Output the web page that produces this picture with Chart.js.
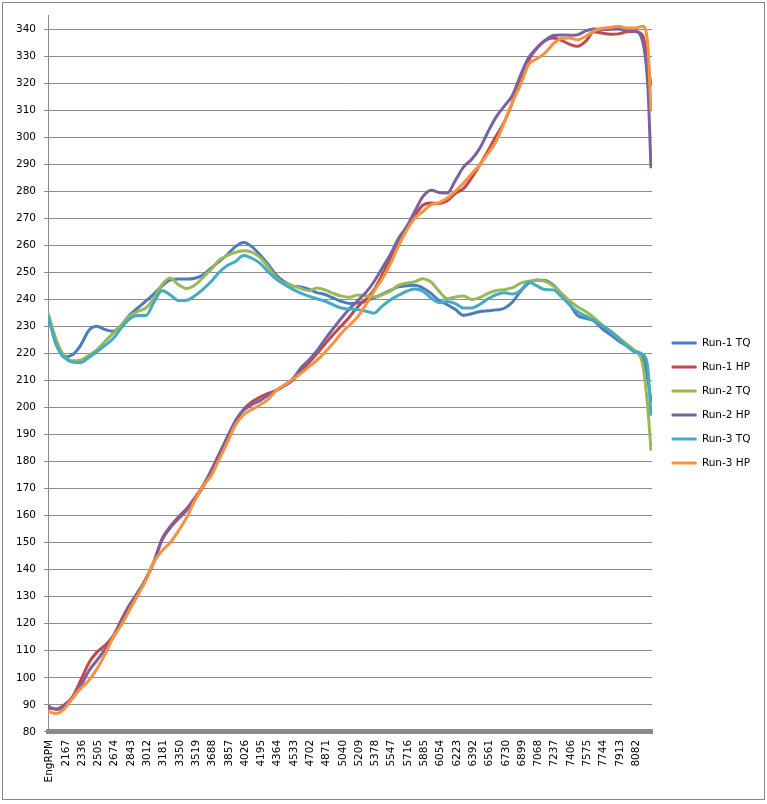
<!DOCTYPE html>
<html>
<head>
<meta charset="utf-8">
<script src="https://cdn.jsdelivr.net/npm/chart.js@4.4.1/dist/chart.umd.min.js"></script>
<style>
  html, body { margin: 0; padding: 0; background: #fff; }
  #wrap { width: 767px; height: 804px; position: relative; }
</style>
</head>
<body>
<div id="wrap"><canvas id="dyno" width="767" height="804"></canvas></div>
<script>
// x tick labels (Excel showed every other row of the sheet)
const xTickLabels = ['EngRPM', '2167', '2336', '2505', '2674', '2843', '3012', '3181', '3350', '3519',
    '3688', '3857', '4026', '4195', '4364', '4533', '4702', '4871', '5040', '5209', '5378', '5547',
    '5716', '5885', '6054', '6223', '6392', '6561', '6730', '6899', '7068', '7237', '7406', '7575',
    '7744', '7913', '8082'];
const xTickValues = [1998, 2167, 2336, 2505, 2674, 2843, 3012, 3181, 3350, 3519, 3688, 3857, 4026,
    4195, 4364, 4533, 4702, 4871, 5040, 5209, 5378, 5547, 5716, 5885, 6054, 6223, 6392, 6561, 6730,
    6899, 7068, 7237, 7406, 7575, 7744, 7913, 8082];

// sample rpm for every series
const rpm = [1998, 2083, 2167, 2252, 2336, 2421, 2505, 2590, 2674, 2759, 2843, 2928, 3012, 3097,
    3181, 3266, 3350, 3435, 3519, 3604, 3688, 3773, 3857, 3942, 4026, 4111, 4195, 4280, 4364, 4449,
    4533, 4618, 4702, 4787, 4871, 4956, 5040, 5125, 5209, 5294, 5378, 5463, 5547, 5632, 5716, 5801,
    5885, 5970, 6054, 6139, 6223, 6308, 6392, 6477, 6561, 6646, 6730, 6815, 6899, 6984, 7068, 7153,
    7237, 7322, 7406, 7491, 7575, 7660, 7744, 7829, 7913, 7998, 8082, 8167, 8220, 8251];

const run1TQ = [234, 224, 218.7, 219.5, 223, 228.5, 230, 228.8, 228.2, 230.5,
    234.2, 236.8, 239.3, 242, 245, 247.2, 247.5, 247.5, 247.8, 249,
    251.5, 254, 256.5, 259.5, 261, 259.5, 256.5, 253, 249, 246.5,
    245, 244.6, 243.8, 242.5, 241.8, 240.5, 239.2, 238.5, 238.6, 239.4,
    240.5, 241.9, 243.3, 244.6, 245, 245.2, 244.2, 242.2, 239.5, 238,
    236.2, 234.1, 234.7, 235.5, 235.8, 236.1, 236.7, 239, 243, 246,
    247.2, 247, 245.3, 242, 238.2, 234, 233, 232, 229.2, 227,
    224.7, 222.8, 221, 218.5, 210, 202];
const run1HP = [88.8, 88.5, 90, 93, 99, 105.5, 109.5, 112, 115.5, 121.5,
    127, 131.5, 136.5, 143, 151.5, 156, 159.5, 162.5, 166.5, 171,
    176.6, 182.8, 189, 195, 199.3, 202, 203.8, 205.2, 206.3, 208,
    210, 213.5, 216.5, 220, 223.5, 227, 230.2, 233.5, 237.2, 240,
    243.5, 249, 255, 261.2, 266.5, 271, 274.8, 275.6, 275.5, 276.5,
    279.2, 281, 285, 289.8, 295, 300.5, 305.6, 313, 321.7, 328.5,
    333, 335.8, 336.7, 335.8, 334.4, 333.6, 335.5, 339, 338.5, 338.1,
    338.2, 339, 339.1, 337.5, 327, 319];
const run2TQ = [235, 225, 219, 217.3, 217.5, 219.3, 221.3, 224.5, 227.5, 230.5,
    233.8, 235.5, 236.8, 240.5, 245.5, 247.9, 245.4, 244, 245.2, 248,
    251, 254.5, 256.2, 257.4, 258, 257.5, 255.5, 252, 248, 246,
    245, 244, 243.2, 244.2, 243.5, 242.2, 241.2, 240.8, 241.6, 241.3,
    240.9, 241.7, 243, 245.2, 246, 246.5, 247.6, 246.4, 243, 240.2,
    240.9, 241.2, 239.9, 240.7, 242.2, 243.3, 243.6, 244.3, 246, 246.7,
    247.1, 246.7, 245, 242.2, 239.5, 237.2, 235.5, 233.2, 230.5, 228.4,
    226, 223.5, 221, 215.5, 199, 184];
const run2HP = [89.5, 88.3, 89.5, 92.5, 97, 102.5, 106.5, 110.5, 115, 121,
    126.5, 131.5, 136.5, 143, 151, 155.5, 158.8, 162, 166, 170.5,
    176.2, 182.5, 188.8, 195, 199, 201, 202.5, 204.5, 206.3, 208.2,
    210.5, 214.5, 217.5, 221, 225.2, 229.2, 233, 236.5, 239.5, 242.5,
    246.5, 251.5, 256.5, 262.5, 266.8, 272.5, 278, 280.4, 279.5, 279.3,
    284, 289, 291.8, 296, 302, 307.5, 311.5, 315.5, 323, 329.5,
    333, 335.7, 337.6, 337.8, 337.7, 337.9, 339.3, 340, 339.8, 339.9,
    340, 339.4, 339.2, 335, 318, 288.5];
const run3TQ = [234, 223, 218.5, 216.8, 216.6, 218.5, 220.7, 223, 225.5, 229.5,
    232.7, 234, 234, 239, 243.3, 241.6, 239.6, 239.7, 241.3, 243.7,
    246.5, 250, 252.5, 254, 256.2, 255.2, 253.4, 250.2, 247.5, 245.5,
    243.8, 242.3, 241.2, 240.2, 239.3, 238, 236.8, 236.4, 236.2, 235.6,
    234.9, 237.5, 239.8, 241.5, 243, 243.8, 243, 240.5, 238.8, 239.2,
    238.4, 236.8, 236.8, 238.2, 240.2, 241.7, 242.4, 242, 243.3, 246.3,
    245, 243.6, 243.5, 241, 238, 235.4, 233.8, 232.2, 230.3, 228.2,
    225.5, 222.8, 220.6, 219.6, 214, 197];
const run3HP = [87.5, 86.8, 88.5, 92.5, 96, 99, 103.3, 108.8, 115, 119.5,
    125, 130.5, 136, 143, 147, 150, 154.3, 159.3, 165.5, 170.8,
    174.7, 180.8, 187, 193.5, 197.3, 199.3, 200.9, 203, 206.2, 208.3,
    210.4, 212.5, 215, 217.5, 220.5, 223.8, 227.5, 230.5, 233.5, 238,
    243, 247.5, 253, 259.8, 265.5, 270, 272.5, 275, 275.8, 277.5,
    280, 283, 286.5, 289.8, 294, 298.5, 305.5, 313, 319.5, 327,
    329, 331.2, 334.5, 336.5, 336.7, 336, 337.3, 339.3, 340.3, 340.6,
    341, 340.4, 340.4, 341, 333, 310];

const seriesNames = ['Run-1 TQ', 'Run-1 HP', 'Run-2 TQ', 'Run-2 HP', 'Run-3 TQ', 'Run-3 HP'];
const seriesValues = [run1TQ, run1HP, run2TQ, run2HP, run3TQ, run3HP];
const seriesColors = ['#4a7ebb', '#be4b48', '#98b954', '#7d60a0', '#46aac5', '#f69240'];

const FONT = 'DejaVu Sans';

const borderPlugin = {
    id: 'outerBorder',
    beforeDraw(chart) {
        const ctx = chart.ctx;
        ctx.save();
        ctx.fillStyle = '#fff';
        ctx.fillRect(0, 0, chart.width, chart.height);
        ctx.strokeStyle = '#868686';
        ctx.lineWidth = 1;
        ctx.strokeRect(2.5, 2.5, 762, 797);
        ctx.restore();
    },
    afterLayout(chart) {
        // nudge the legend a bit away from the plot, like Excel does
        const lg = chart.legend;
        if (lg) {
            lg.left += 6;
            lg.right += 6;
        }
    }
};

const datasets = seriesNames.map((name, i) => ({
    label: name,
    data: rpm.map((r, j) => ({ x: r, y: seriesValues[i][j] })),
    borderColor: seriesColors[i],
    backgroundColor: seriesColors[i],
    borderWidth: 3,
    pointRadius: 0,
    fill: false,
    cubicInterpolationMode: 'monotone',
    order: seriesNames.length - i
}));

new Chart(document.getElementById('dyno'), {
    type: 'line',
    data: { datasets },
    plugins: [borderPlugin],
    options: {
        responsive: false,
        animation: false,
        layout: { padding: { left: 8, right: 12.5, top: 15.5, bottom: 13.5 } },
        scales: {
            x: {
                type: 'linear',
                min: 1998,
                max: 8263,
                afterBuildTicks: scale => {
                    scale.ticks = xTickValues.map(v => ({ value: v }));
                },
                ticks: {
                    autoSkip: false,
                    maxRotation: 90,
                    minRotation: 90,
                    padding: 8,
                    labelOffset: 1.5,
                    color: '#000',
                    font: { family: FONT, size: 10.5 },
                    callback: (value, index) => xTickLabels[index]
                },
                grid: { display: false, drawTicks: false },
                border: { display: true, color: '#8a8a8a', width: 5 }
            },
            y: {
                min: 80,
                max: 345,
                ticks: {
                    stepSize: 5,
                    padding: 8,
                    color: '#000',
                    font: { family: FONT, size: 10.5 },
                    callback: value => (value % 10 === 0 && value < 345) ? value : ''
                },
                grid: {
                    tickLength: 4,
                    color: ctx => {
                        const v = ctx.tick.value;
                        if (v >= 345) return 'rgba(0,0,0,0)';
                        return v % 10 === 0 ? '#8c8c8c' : '#c4c4c4';
                    },
                    tickColor: ctx => (ctx.tick.value % 10 === 0 && ctx.tick.value < 345) ? '#8c8c8c' : 'rgba(0,0,0,0)'
                },
                border: { display: true, color: '#8c8c8c', width: 1 }
            }
        },
        plugins: {
            tooltip: { enabled: false },
            legend: {
                position: 'right',
                labels: {
                    usePointStyle: true,
                    pointStyle: 'line',
                    pointStyleWidth: 25,
                    padding: 13.5,
                    color: '#000',
                    font: { family: FONT, size: 10.5 },
                    sort: (a, b) => a.datasetIndex - b.datasetIndex
                }
            }
        }
    }
});
</script>
</body>
</html>
